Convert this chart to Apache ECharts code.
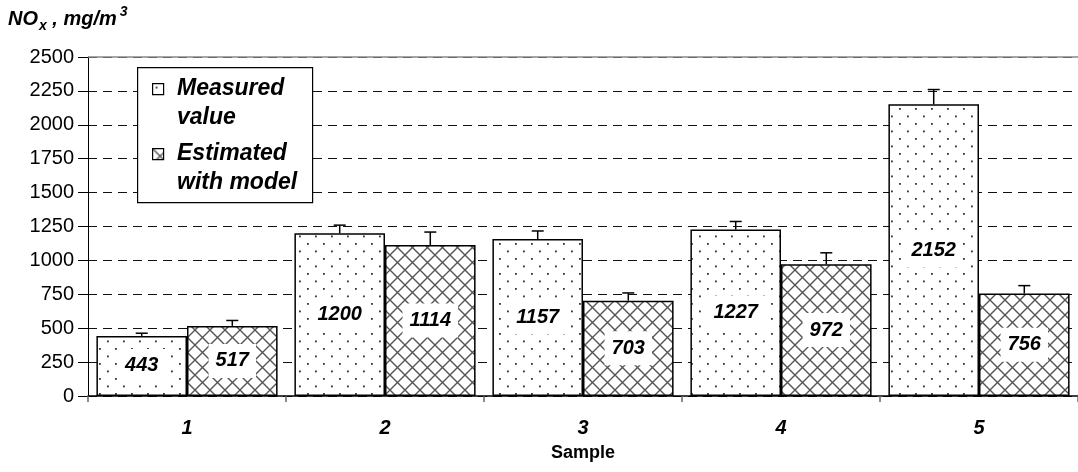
<!DOCTYPE html>
<html>
<head>
<meta charset="utf-8">
<script src="https://cdn.jsdelivr.net/npm/echarts@6/dist/echarts.min.js"></script>
<style>
html,body{margin:0;padding:0;background:#fff;}
#chart{width:1078px;height:472px;}
</style>
</head>
<body>
<div id="chart"></div>
<script>
// ---- data ----
const categories = ['1', '2', '3', '4', '5'];
const measuredName = 'Measured\nvalue';
const estimatedName = 'Estimated\nwith model';
const measured = [443, 1200, 1157, 1227, 2152];
const estimated = [517, 1114, 703, 972, 756];
const measuredErr = [20, 60, 60, 60, 108];
const estimatedErr = [40, 95, 57, 84, 58];
const yTicks = { min: 0, max: 2500, interval: 250 };

// ---- patterns ----
function dotPattern() {
  const c = document.createElement('canvas');
  c.width = 16; c.height = 15;
  const g = c.getContext('2d');
  g.fillStyle = '#fff'; g.fillRect(0, 0, 16, 15);
  g.fillStyle = '#333';
  g.fillRect(3, 3, 1.8, 1.8);
  g.fillRect(11, 10.5, 1.8, 1.8);
  return c;
}
function crossPattern() {
  const c = document.createElement('canvas');
  c.width = 15; c.height = 15;
  const g = c.getContext('2d');
  g.fillStyle = '#fff'; g.fillRect(0, 0, 15, 15);
  g.strokeStyle = '#555'; g.lineWidth = 1.4;
  g.beginPath();
  g.moveTo(-1, -1); g.lineTo(16, 16);
  g.moveTo(16, -1); g.lineTo(-1, 16);
  g.stroke();
  return c;
}
const dotFill = { image: dotPattern(), repeat: 'repeat' };
const crossFill = { image: crossPattern(), repeat: 'repeat' };

const FONT = 'Liberation Sans, Arial, sans-serif';
const GAP = 0.085;

function errSeries(name, vals, errs, side) {
  return {
    type: 'custom',
    name: name + ' err',
    z: 5,
    silent: true,
    encode: { x: 0, y: 1 },
    data: vals.map((v, i) => [i, v, errs[i]]),
    renderItem: function (params, api) {
      const i = api.value(0), v = api.value(1), e = api.value(2);
      const base = api.coord([i, v]);
      const top = api.coord([i, v + e]);
      const band = api.size([1, 0])[0];
      const bw = band * (1 - GAP) / 2;
      const cx = base[0] + side * bw / 2;
      return {
        type: 'group',
        children: [
          { type: 'line', shape: { x1: cx, y1: base[1], x2: cx, y2: top[1] }, style: { stroke: '#000', lineWidth: 1.5 } },
          { type: 'line', shape: { x1: cx - 6, y1: top[1], x2: cx + 6, y2: top[1] }, style: { stroke: '#000', lineWidth: 1.5 } }
        ]
      };
    }
  };
}

const labelStyle = {
  show: true,
  position: 'inside',
  color: '#000',
  fontSize: 20,
  fontWeight: 'bold',
  fontStyle: 'italic',
  fontFamily: FONT,
  backgroundColor: '#fff',
  padding: [8, 7, 6, 7]
};

const LEG = { fill: '#000', fontSize: 23, fontWeight: 'bold', fontStyle: 'italic', fontFamily: FONT, lineHeight: 29 };

const chart = echarts.init(document.getElementById('chart'));
chart.setOption({
  animation: false,
  backgroundColor: '#fff',
  grid: { left: 88, top: 57, width: 997, height: 339, containLabel: false },
  xAxis: {
    type: 'category',
    data: categories,
    name: 'Sample',
    nameLocation: 'middle',
    nameGap: 48,
    nameTextStyle: { fontSize: 18, fontWeight: 'bold', color: '#000', fontFamily: FONT },
    axisLine: { lineStyle: { color: '#000', width: 1.5 } },
    axisTick: { show: true, length: 6, lineStyle: { color: '#666', width: 1.5 } },
    axisLabel: { margin: 22, fontSize: 20, fontWeight: 'bold', fontStyle: 'italic', color: '#000', fontFamily: FONT }
  },
  yAxis: {
    type: 'value',
    min: yTicks.min, max: yTicks.max, interval: yTicks.interval,
    axisLine: { show: true, lineStyle: { color: '#000', width: 1 } },
    axisTick: { show: true, length: 10, lineStyle: { color: '#000' } },
    axisLabel: { margin: 14, fontSize: 20, color: '#000', fontFamily: FONT, formatter: v => String(v) },
    splitLine: { show: true, lineStyle: { type: [9, 6], color: '#111', width: 1 } }
  },
  series: [
    {
      type: 'bar', name: measuredName, data: measured,
      barGap: '0%', barCategoryGap: (GAP * 100) + '%',
      itemStyle: { color: dotFill, borderColor: '#000', borderWidth: 1.5 },
      label: labelStyle,
      markLine: {
        silent: true, symbol: 'none', label: { show: false },
        lineStyle: { type: 'solid', color: '#888', width: 1.5 },
        data: [{ yAxis: 2500 }]
      }
    },
    {
      type: 'bar', name: estimatedName, data: estimated,
      itemStyle: { color: crossFill, borderColor: '#000', borderWidth: 1.5 },
      label: labelStyle
    },
    errSeries('Measured', measured, measuredErr, -1),
    errSeries('Estimated', estimated, estimatedErr, 1)
  ],
  graphic: [
    {
      type: 'text', left: 8, top: 5, z: 100,
      style: {
        text: '{a|NO}{s|x}{a| , mg/m}{p|3}',
        fill: '#000',
        rich: {
          a: { fontSize: 20, fontWeight: 'bold', fontStyle: 'italic', fontFamily: FONT, lineHeight: 28, verticalAlign: 'middle' },
          s: { fontSize: 14, fontWeight: 'bold', fontStyle: 'italic', fontFamily: FONT, lineHeight: 28, verticalAlign: 'bottom', padding: [0, 0, 0, 1] },
          p: { fontSize: 14, fontWeight: 'bold', fontStyle: 'italic', fontFamily: FONT, lineHeight: 28, verticalAlign: 'top', padding: [0, 0, 0, 3] }
        }
      }
    },
    { type: 'rect', left: 137, top: 67, z: 100, shape: { width: 175, height: 135 }, style: { fill: '#fff', stroke: '#000', lineWidth: 1.2 } },
    { type: 'rect', left: 152, top: 83, z: 101, shape: { width: 11, height: 11 }, style: { fill: dotFill, stroke: '#000', lineWidth: 1.2 } },
    { type: 'rect', left: 152, top: 148, z: 101, shape: { width: 11, height: 11 }, style: { fill: crossFill, stroke: '#000', lineWidth: 1.2 } },
    { type: 'text', left: 177, top: 74, z: 101, style: Object.assign({ text: measuredName }, LEG) },
    { type: 'text', left: 177, top: 139, z: 101, style: Object.assign({ text: estimatedName }, LEG) }
  ]
});
</script>
</body>
</html>
